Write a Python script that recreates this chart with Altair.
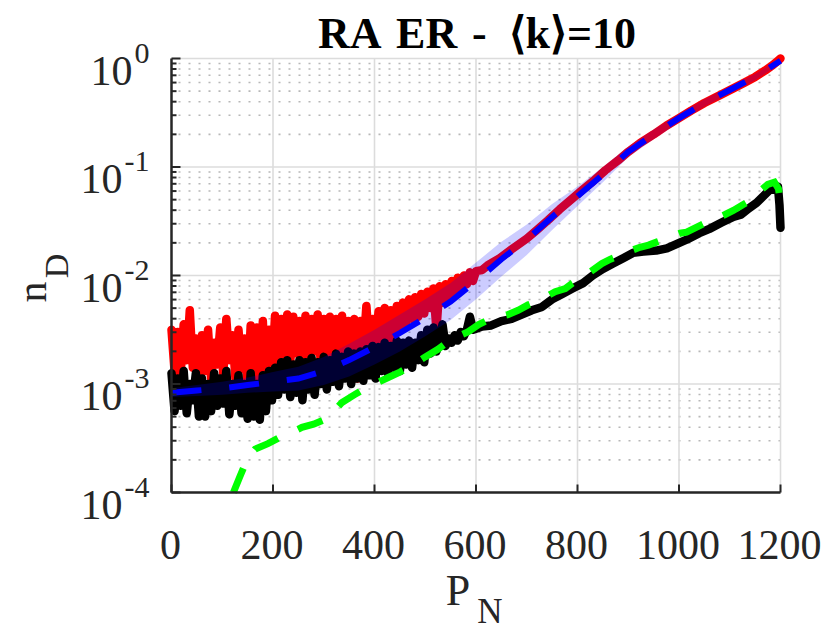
import altair as alt
import pandas as pd

SERIF = "Liberation Serif"
DARK = "#262626"
W, H = 609, 434

# ---------------- data (log10 of n_D) ----------------
pn_noisy = list(range(0, 601, 6))   # sampling grid of the noisy part

red_noisy_log = [
    -2.50, -2.88, -2.52, -2.92, -2.45, -2.78, -2.32, -2.85, -2.58, -3.15,
    -2.55, -2.88, -2.50, -2.95, -2.62, -2.82, -2.48, -2.92, -2.40, -2.78,
    -2.55, -2.95, -2.50, -2.86, -2.58, -3.05, -2.46, -3.10, -2.48, -3.15,
    -2.42, -3.05, -2.50, -2.90, -2.37, -2.80, -2.40, -2.75, -2.36, -2.80,
    -2.38, -2.72, -2.42, -2.85, -2.37, -2.78, -2.40, -2.70, -2.36, -2.80,
    -2.40, -2.72, -2.38, -2.75, -2.40, -2.70, -2.37, -2.78, -2.42, -2.70,
    -2.40, -2.95, -2.42, -2.70, -2.28, -2.68, -2.40, -2.62, -2.33, -2.60,
    -2.30, -2.78, -2.32, -2.55, -2.28, -2.50, -2.25, -2.45, -2.22, -2.40,
    -2.20, -2.38, -2.17, -2.35, -2.15, -2.30, -2.12, -2.50, -2.10, -2.25,
    -2.08, -2.20, -2.05, -2.15, -2.02, -2.12, -2.00, -2.08, -1.97, -2.05, -1.96,
]
black_noisy_log = [
    -2.90, -3.25, -2.95, -3.20, -2.88, -3.27, -3.00, -3.15, -2.90, -3.30,
    -2.95, -3.30, -3.00, -3.25, -2.90, -3.20, -2.95, -3.18, -2.88, -3.28,
    -3.00, -3.20, -2.92, -3.27, -3.00, -3.32, -2.90, -3.30, -3.00, -3.33,
    -2.92, -3.25, -2.88, -3.15, -2.85, -3.10, -2.80, -3.05, -2.78, -3.12,
    -2.82, -3.08, -2.78, -3.15, -2.80, -3.05, -2.76, -3.10, -2.80, -3.00,
    -2.75, -3.05, -2.78, -2.98, -2.72, -3.02, -2.75, -2.95, -2.70, -3.00,
    -2.72, -2.95, -2.70, -2.97, -2.68, -2.92, -2.65, -2.95, -2.66, -2.88,
    -2.62, -2.90, -2.65, -2.85, -2.60, -2.88, -2.62, -2.82, -2.60, -2.85,
    -2.62, -2.78, -2.55, -2.80, -2.50, -2.72, -2.48, -2.70, -2.58, -2.45,
    -2.65, -2.58, -2.62, -2.55, -2.60, -2.52, -2.56, -2.50, -2.38, -2.50, -2.49,
]

pn_red_smooth = [612, 625, 647, 670, 700, 720, 742, 765, 790, 810, 831, 855, 880, 900,
                 923, 950, 975, 1000, 1024, 1050, 1080, 1105, 1130, 1150, 1170, 1185, 1195, 1200]
red_smooth_log = [-1.95, -1.90, -1.84, -1.76, -1.66, -1.58, -1.49, -1.39, -1.29, -1.21,
                  -1.13, -1.03, -0.94, -0.86, -0.78, -0.70, -0.62, -0.55, -0.48, -0.41,
                  -0.34, -0.28, -0.22, -0.17, -0.11, -0.06, -0.02, 0.0]

pn_black_smooth = [612, 630, 650, 670, 690, 710, 730, 750, 770, 790,
                   811, 830, 850, 870, 890, 910, 930, 955, 976, 995,
                   1015, 1040, 1060, 1085, 1107, 1122, 1138, 1153, 1166, 1179,
                   1188, 1195, 1198, 1200]
black_smooth_log = [-2.47, -2.46, -2.42, -2.40, -2.36, -2.32, -2.29, -2.22, -2.17, -2.12,
                    -2.07, -2.00, -1.94, -1.89, -1.84, -1.79, -1.78, -1.77, -1.75, -1.71,
                    -1.67, -1.61, -1.57, -1.51, -1.46, -1.44, -1.38, -1.33, -1.27, -1.21,
                    -1.20, -1.18, -1.35, -1.56]

pn_green = [122, 135, 145, 155, 165, 190, 210, 235, 257, 280,
            306, 336, 360, 385, 405, 427, 450, 470, 500, 525,
            545, 565, 584, 606, 628, 645, 663, 683, 703, 720,
            736, 756, 776, 790, 809, 830, 848, 865, 880, 900,
            923, 940, 957, 980, 1002, 1015, 1028, 1050, 1075, 1090,
            1107, 1125, 1144, 1160, 1175, 1188, 1196, 1200]
green_log = [-4.00, -3.85, -3.74, -3.66, -3.60, -3.55, -3.50, -3.45, -3.40, -3.37,
             -3.32, -3.17, -3.10, -3.03, -2.99, -2.94, -2.89, -2.84, -2.75, -2.68,
             -2.61, -2.56, -2.52, -2.45, -2.40, -2.38, -2.36, -2.32, -2.27, -2.24,
             -2.20, -2.15, -2.12, -2.07, -2.02, -1.95, -1.89, -1.85, -1.82, -1.78,
             -1.74, -1.72, -1.69, -1.65, -1.61, -1.60, -1.57, -1.52, -1.47, -1.44,
             -1.40, -1.35, -1.30, -1.22, -1.16, -1.14, -1.20, -1.33]

pn_mean = [0, 50, 100, 150, 200, 250, 300, 350, 400, 450, 500, 550, 600,
           650, 700, 750, 800, 850, 900, 950, 1000, 1050, 1100, 1150, 1200]
mean_log = [-3.08, -3.06, -3.04, -3.01, -2.98, -2.95, -2.88, -2.78, -2.66, -2.53, -2.39, -2.24, -2.05,
            -1.85, -1.67, -1.46, -1.27, -1.07, -0.86, -0.70, -0.55, -0.41, -0.29, -0.17, -0.02]
band_lo_log = [-3.12, -3.11, -3.10, -3.08, -3.07, -3.06, -3.01, -2.93, -2.82, -2.70, -2.56, -2.41, -2.22,
               -2.01, -1.81, -1.58, -1.36, -1.14, -0.91, -0.745, -0.59, -0.445, -0.32, -0.20, -0.05]
band_hi_log = [-3.04, -3.01, -2.98, -2.94, -2.89, -2.84, -2.75, -2.63, -2.50, -2.36, -2.22, -2.07, -1.88,
               -1.69, -1.53, -1.34, -1.18, -1.00, -0.81, -0.655, -0.51, -0.375, -0.26, -0.14, 0.0]

x_ticks = [0, 200, 400, 600, 800, 1000, 1200]
y_ticks = [1e-4, 1e-3, 1e-2, 1e-1, 1.0]
y_exps = ["-4", "-3", "-2", "-1", "0"]
minor_mant = [2, 3, 4, 5, 6, 7, 8, 9]
minor_y = [m * t for t in y_ticks[:-1] for m in minor_mant]


def frame(xs, logs):
    return pd.DataFrame({"pn": xs, "nd": [10.0 ** v for v in logs]})


red_df = frame(pn_noisy + pn_red_smooth, red_noisy_log + red_smooth_log)
black_df = frame(pn_noisy + pn_black_smooth, black_noisy_log + black_smooth_log)
green_df = frame(pn_green, green_log)
mean_df = frame(pn_mean, mean_log)
band_df = pd.DataFrame({"pn": pn_mean,
                        "lo": [10.0 ** v for v in band_lo_log],
                        "hi": [10.0 ** v for v in band_hi_log]})

xscale = alt.Scale(domain=[0, 1200], nice=False, zero=False)
yscale = alt.Scale(type="log", domain=[1e-4, 1.0], nice=False)
X = alt.X("pn:Q", scale=xscale, axis=None)
Y = alt.Y("nd:Q", scale=yscale, axis=None)

dummy = alt.Data(values=[{"a": 1}])
yt_df = pd.DataFrame({"v": y_ticks, "e": y_exps})
xt_df = pd.DataFrame({"pn": x_ticks, "t": [str(v) for v in x_ticks]})

# ---------------- grid ----------------
minor_grid = alt.Chart(pd.DataFrame({"v": minor_y})).mark_rule(
    color="#b8b8b8", strokeWidth=1.6, strokeDash=[2, 8]
).encode(y=alt.Y("v:Q", scale=yscale, axis=None))
major_grid_y = alt.Chart(yt_df).mark_rule(color="#dcdcdc", strokeWidth=1.6).encode(
    y=alt.Y("v:Q", scale=yscale, axis=None))
major_grid_x = alt.Chart(pd.DataFrame({"pn": x_ticks[1:]})).mark_rule(
    color="#dcdcdc", strokeWidth=1.6).encode(x=X)

# ---------------- data marks ----------------
red = alt.Chart(red_df).mark_line(color="#ff0000", strokeWidth=8.5, strokeCap="round",
                                  strokeJoin="round").encode(x=X, y=Y)
black = alt.Chart(black_df).mark_line(color="#000000", strokeWidth=8.5, strokeCap="round",
                                      strokeJoin="round").encode(x=X, y=Y)
band = alt.Chart(band_df).mark_area(color="#0000ff", opacity=0.2).encode(
    x=X, y=alt.Y("lo:Q", scale=yscale, axis=None), y2="hi:Q")
green = alt.Chart(green_df).mark_line(color="#00ff00", strokeWidth=7,
                                      strokeDash=[26, 22]).encode(x=X, y=Y)
blue = alt.Chart(mean_df).mark_line(color="#0000ff", strokeWidth=6,
                                    strokeDash=[30, 28]).encode(x=X, y=Y)

# ---------------- axes ----------------
left_axis = alt.Chart(dummy).mark_rule(color=DARK, strokeWidth=2.5).encode(
    x=alt.value(0), y=alt.value(0), y2=alt.value(H))
bottom_axis = alt.Chart(dummy).mark_rule(color=DARK, strokeWidth=2.5).encode(
    y=alt.value(H), x=alt.value(0), x2=alt.value(W))
y_major_ticks = alt.Chart(yt_df).mark_rule(color=DARK, strokeWidth=2).encode(
    y=alt.Y("v:Q", scale=yscale, axis=None), x=alt.value(0), x2=alt.value(9))
y_minor_ticks = alt.Chart(pd.DataFrame({"v": minor_y})).mark_rule(color=DARK, strokeWidth=2).encode(
    y=alt.Y("v:Q", scale=yscale, axis=None), x=alt.value(0), x2=alt.value(5))
x_major_ticks = alt.Chart(xt_df).mark_rule(color=DARK, strokeWidth=2).encode(
    x=X, y=alt.value(H), y2=alt.value(H - 8))

x_labels = alt.Chart(xt_df).mark_text(font=SERIF, fontSize=42, color=DARK, align="center",
                                      baseline="alphabetic", dx=-1).encode(
    x=X, y=alt.value(H + 66), text="t:N")

ten_zero = alt.Chart(yt_df).transform_filter("datum.e == '0'").mark_text(
    text="10", font=SERIF, fontSize=42, color=DARK, align="right", baseline="alphabetic", dy=26
).encode(x=alt.value(-39), y=alt.Y("v:Q", scale=yscale, axis=None))
ten_neg = alt.Chart(yt_df).transform_filter("datum.e != '0'").mark_text(
    text="10", font=SERIF, fontSize=42, color=DARK, align="right", baseline="alphabetic", dy=26
).encode(x=alt.value(-49), y=alt.Y("v:Q", scale=yscale, axis=None))
exps = alt.Chart(yt_df).mark_text(font=SERIF, fontSize=30, color=DARK, align="right",
                                  baseline="alphabetic", dy=4).encode(
    x=alt.value(-22), y=alt.Y("v:Q", scale=yscale, axis=None), text="e:N")

# axis titles with subscripts
p_text = alt.Chart(dummy).mark_text(text="P", font=SERIF, fontSize=44, color=DARK,
                                    align="center", baseline="alphabetic").encode(
    x=alt.value(286.5), y=alt.value(546))
n_text = alt.Chart(dummy).mark_text(text="N", font=SERIF, fontSize=35, color=DARK,
                                    align="center", baseline="alphabetic").encode(
    x=alt.value(318.5), y=alt.value(564))
nd_n = alt.Chart(dummy).mark_text(text="n", font=SERIF, fontSize=42, color=DARK, angle=270,
                                  align="center", baseline="alphabetic").encode(
    x=alt.value(-125.5), y=alt.value(233.5))
nd_d = alt.Chart(dummy).mark_text(text="D", font=SERIF, fontSize=34, color=DARK, angle=270,
                                  align="center", baseline="alphabetic").encode(
    x=alt.value(-104), y=alt.value(207.5))

title = alt.Chart(dummy).mark_text(text="RA\u2004ER\u2004-\u2002\u27e8k\u27e9=10", font=SERIF,
                                   fontSize=44, fontWeight="bold", color="#000000",
                                   align="center", baseline="alphabetic").encode(
    x=alt.value(W / 2 + 1), y=alt.value(-11))

chart = alt.layer(
    minor_grid, major_grid_y, major_grid_x,
    red, black, band, green, blue,
    left_axis, bottom_axis, y_major_ticks, y_minor_ticks, x_major_ticks,
    x_labels, ten_zero, ten_neg, exps, p_text, n_text, nd_n, nd_d, title,
).properties(
    width=W, height=H,
    padding={"left": 163.5, "top": 50.5, "right": 41, "bottom": 140},
    autosize=alt.AutoSizeParams(type="none"),
    background="white",
).configure_view(stroke=None)

chart.save("out.html", embed_options={"renderer": "svg", "actions": False})
